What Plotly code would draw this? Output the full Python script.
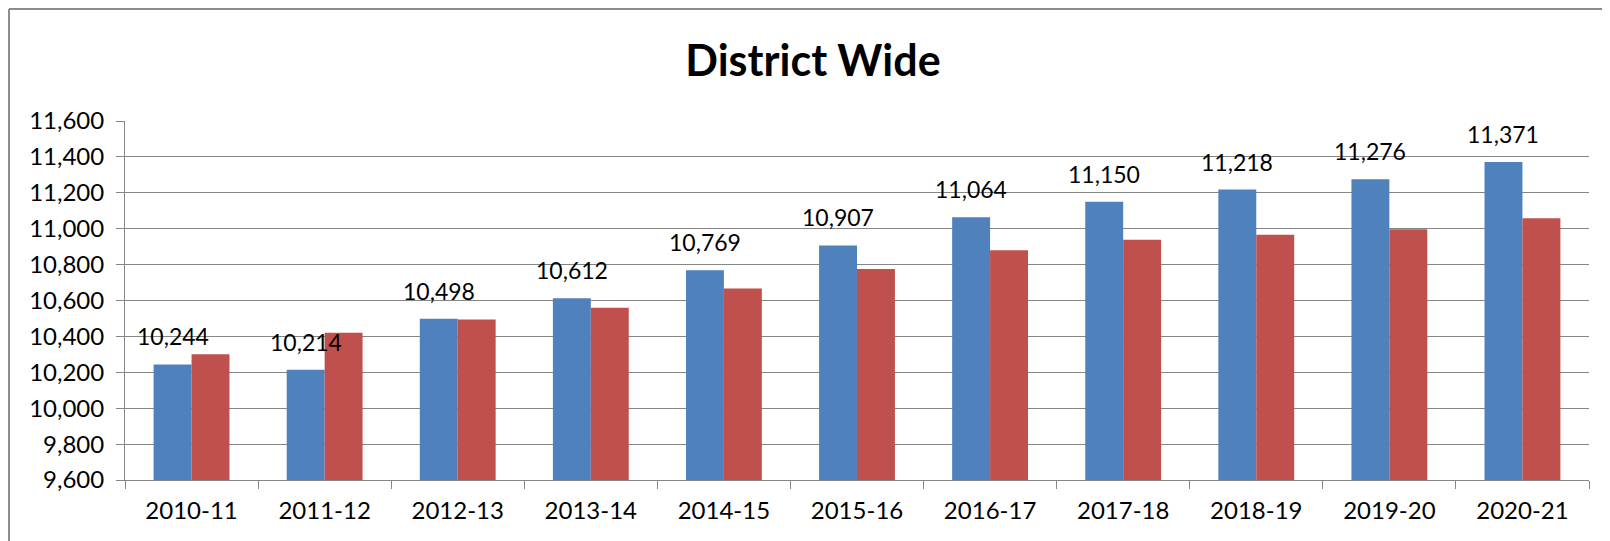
import plotly.graph_objects as go

categories = ["2010-11", "2011-12", "2012-13", "2013-14", "2014-15", "2015-16",
              "2016-17", "2017-18", "2018-19", "2019-20", "2020-21"]
blue_values = [10244, 10214, 10498, 10612, 10769, 10907, 11064, 11150, 11218, 11276, 11371]
red_values = [10300, 10420, 10494, 10560, 10667, 10776, 10880, 10938, 10966, 10997, 11058]
y_ticks = list(range(9600, 11601, 200))
y_tick_labels = [f"{v:,}" for v in y_ticks]

FONT = "Lato"
OFF = 8  # page body margin
W, H = 1610, 541
L, R, T, B = 125 - OFF, W - (1589 - OFF), 121 - OFF, H - (480 - OFF)
pw = W - L - R
ph = H - T - B
BARGAP = 0.43
cat_px = pw / len(categories)
bar_px = cat_px * (1 - BARGAP) / 2

fig = go.Figure()
fig.add_trace(go.Bar(
    x=categories, y=blue_values, marker=dict(color="#4F81BD", line=dict(width=0)),
))
fig.add_trace(go.Bar(
    x=categories, y=red_values, marker=dict(color="#C0504D", line=dict(width=0)),
))
for c, v in zip(categories, blue_values):
    fig.add_annotation(x=c, y=v, text=f"{v:,}", showarrow=False,
                       xanchor="center", yanchor="bottom",
                       xshift=-bar_px / 2, yshift=12,
                       font=dict(family=FONT, size=23, color="#000000"))

fig.update_layout(
    width=W, height=H,
    margin=dict(l=L, r=R, t=T, b=B),
    paper_bgcolor="white", plot_bgcolor="white",
    barmode="group", bargap=BARGAP, bargroupgap=0,
    showlegend=False,
    title=dict(text="<b>District Wide</b>", x=(813 - OFF) / W, xanchor="center",
               y=1 - (61 - OFF) / H, yanchor="middle",
               font=dict(family=FONT, size=43, color="#000000")),
    font=dict(family=FONT, size=24, color="#000000"),
)
fig.update_xaxes(
    type="category", tickson="boundaries", ticks="outside", ticklen=8,
    tickcolor="#868686", showline=True, linecolor="#868686", linewidth=1,
    tickfont=dict(family=FONT, size=24), showgrid=False, ticklabelstandoff=9,
)
fig.update_yaxes(
    range=[9600, 11600], tickvals=y_ticks, ticktext=y_tick_labels,
    ticks="outside", ticklen=8, tickcolor="#868686",
    showline=True, linecolor="#868686", linewidth=1,
    showgrid=True, gridcolor="#868686", gridwidth=1,
    tickfont=dict(family=FONT, size=24), zeroline=False, ticklabelstandoff=7,
)
# outer chart border (top and left visible)
fig.add_shape(type="line", xref="paper", yref="paper",
              x0=(1 - L) / pw, x1=(W + 5 - L) / pw,
              y0=1 + (T - 1) / ph, y1=1 + (T - 1) / ph,
              line=dict(color="#8C8C8C", width=2))
fig.add_shape(type="line", xref="paper", yref="paper",
              x0=(1 - L) / pw, x1=(1 - L) / pw,
              y0=1 + (T - 1) / ph, y1=-(B + 5) / ph,
              line=dict(color="#8C8C8C", width=2))

fig.write_html("out.html")
